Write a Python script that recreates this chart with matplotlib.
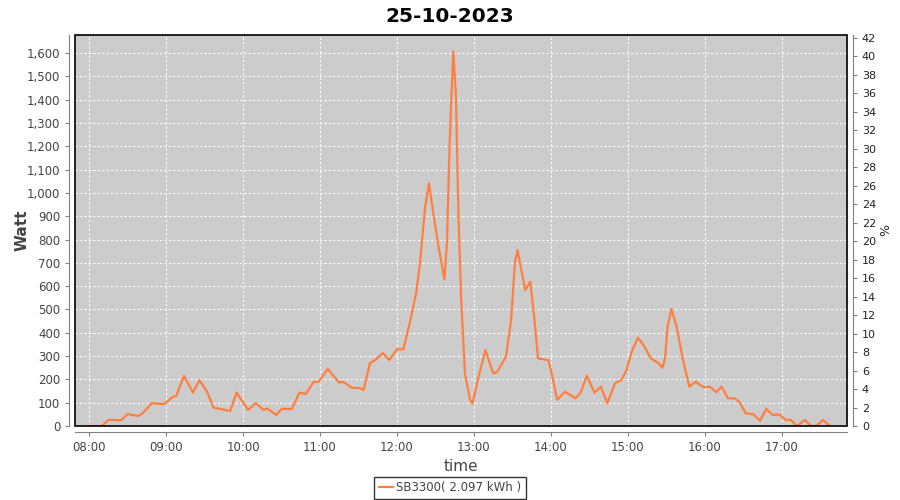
import matplotlib
matplotlib.use('Agg')
import matplotlib.pyplot as plt
from matplotlib.patches import Rectangle
from matplotlib.ticker import FuncFormatter, MultipleLocator

# sample times (HH:MM) and power in Watt
times = ['08:00', '08:10', '08:15', '08:25', '08:30', '08:38', '08:41', '08:49', '08:58', '09:00',
         '09:05', '09:08', '09:14', '09:21', '09:26', '09:32', '09:37', '09:45', '09:50', '09:55',
         '10:04', '10:10', '10:16', '10:19', '10:26', '10:30', '10:38', '10:44', '10:49', '10:55',
         '10:59', '11:06', '11:15', '11:18', '11:25', '11:31', '11:34', '11:39', '11:43', '11:49',
         '11:54', '12:00', '12:05', '12:10', '12:15', '12:18', '12:22', '12:25', '12:28', '12:32',
         '12:37', '12:39', '12:41', '12:43', '12:44', '12:46', '12:48', '12:50', '12:53', '12:57',
         '12:59', '13:03', '13:09', '13:15', '13:18', '13:25', '13:29', '13:32', '13:34', '13:38',
         '13:40', '13:44', '13:47', '13:50', '13:58', '14:00', '14:05', '14:11', '14:19', '14:23',
         '14:28', '14:34', '14:39', '14:44', '14:50', '14:55', '14:59', '15:03', '15:08', '15:13',
         '15:18', '15:24', '15:27', '15:29', '15:31', '15:34', '15:38', '15:43', '15:48', '15:53',
         '15:59', '16:04', '16:09', '16:13', '16:18', '16:23', '16:27', '16:32', '16:38', '16:43',
         '16:48', '16:53', '16:58', '17:03', '17:07', '17:12', '17:18', '17:23', '17:27', '17:32',
         '17:37']
watt = [0, 0, 26, 25, 51, 43, 51, 98, 94, 100,
        124, 130, 215, 143, 197, 147, 79, 70, 64, 143,
        69, 98, 69, 75, 47, 73, 73, 143, 137, 189,
        190, 245, 186, 190, 164, 163, 155, 270, 283, 313,
        283, 329, 329, 442, 571, 700, 941, 1041, 927, 784,
        630, 785, 1199, 1485, 1607, 1413, 898, 555, 226, 112,
        97, 197, 326, 226, 231, 297, 455, 700, 755, 641,
        584, 619, 469, 290, 283, 240, 112, 147, 119, 140,
        216, 143, 169, 97, 183, 197, 240, 319, 379, 340,
        290, 269, 250, 290, 426, 502, 426, 283, 169, 190,
        166, 169, 145, 169, 119, 119, 104, 54, 50, 23,
        73, 47, 50, 26, 26, 0, 26, 0, 0, 26,
        3]
hour_ticks = list(range(8, 18))
title = '25-10-2023'
legend_label = 'SB3300( 2.097 kWh )'

hours = [int(t[:2]) + int(t[3:]) / 60 for t in times]

fig = plt.figure(figsize=(9, 5), dpi=100)
ax = fig.add_axes([0.0833, 0.148, 0.858, 0.782])
ax.set_facecolor('#CCCCCC')
ax.add_patch(Rectangle((0, 0), 1, 1, transform=ax.transAxes, fill=False,
                       edgecolor='black', linewidth=1.2, clip_on=False, zorder=5))

line, = ax.plot(hours, watt, color='#FF7F3F', linewidth=1.6, label=legend_label,
                solid_joinstyle='round')

ax.set_xlim(7 + 49 / 60, 17 + 51 / 60)
ax.set_ylim(0, 1678)
ax.set_xticks(hour_ticks)
ax.set_xticklabels(['%02d:00' % h for h in hour_ticks])
ax.yaxis.set_major_locator(MultipleLocator(100))
ax.yaxis.set_major_formatter(FuncFormatter(lambda v, p: f'{int(v):,}'))
ax.grid(True, color='white', linestyle=(0, (2, 2)), linewidth=0.8)

for s in ['top', 'right']:
    ax.spines[s].set_visible(False)
for s in ['left', 'bottom']:
    ax.spines[s].set_position(('outward', 4))
    ax.spines[s].set_color('#808080')
ax.tick_params(colors='#808080', labelcolor='#444444', labelsize=8.5, length=3)

ax2 = ax.twinx()
ax2.set_ylim(0, 42.3)
ax2.yaxis.set_major_locator(MultipleLocator(2))
for s in ['top', 'left', 'bottom']:
    ax2.spines[s].set_visible(False)
ax2.spines['right'].set_position(('outward', 4))
ax2.spines['right'].set_color('#808080')
ax2.tick_params(colors='#808080', labelcolor='#222222', labelsize=8, length=3)
ax2.set_ylabel('%', color='#222222', fontsize=9)
ax2.yaxis.set_label_coords(1.042, 0.5)

ax.set_xlabel('time', color='#444444', fontsize=11)
ax.set_ylabel('Watt', color='#444444', fontsize=11, fontweight='bold')
ax.yaxis.set_label_coords(-0.059, 0.5)
fig.suptitle(title, fontsize=14.5, fontweight='bold', y=0.985)

leg = fig.legend(handles=[line], loc='center', bbox_to_anchor=(0.5, 0.024),
                 fontsize=8.5, frameon=True, fancybox=False, handlelength=1.2,
                 handletextpad=0.3, borderpad=0.35, borderaxespad=0)
leg.get_frame().set_edgecolor('black')
leg.get_frame().set_linewidth(1)
for t in leg.get_texts():
    t.set_color('#444444')

plt.savefig('out.png', dpi=100)
